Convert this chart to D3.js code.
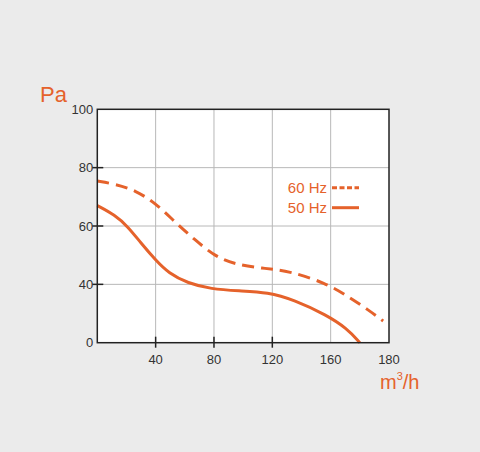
<!DOCTYPE html>
<html>
<head>
<meta charset="utf-8">
<script src="https://cdn.jsdelivr.net/npm/d3@7"></script>
<style>
  body { margin: 0; background: #ebebeb; }
  svg { display: block; font-family: "Liberation Sans", Arial, sans-serif; }
</style>
</head>
<body>
<svg id="chart" width="480" height="452"></svg>
<script>
// axis labels sit at evenly spaced positions (as on the original sheet)
const xTicks = [0, 40, 80, 120, 160, 180];
const yTicks = [0, 40, 60, 80, 100];

// 50 Hz curve (solid)
const flow50 = [0, 12, 21, 30, 40, 49, 62, 78, 97, 117, 135, 157, 165.5, 170];
const pa50 = [67, 63.8, 59.8, 54.1, 48.3, 43.8, 40.4, 36.8, 35.5, 34.6, 29.3, 19, 9.9, 0];

// 60 Hz curve (dashed)
const flow60 = [0, 12, 26, 40, 53, 67, 81, 94, 113, 131, 157, 166, 173, 178];
const pa60 = [75.4, 74.4, 72.3, 67.8, 61.5, 55.2, 49.5, 46.9, 45.5, 44.7, 40.4, 31.6, 22.4, 14.9];

const ORANGE = "#e5622b";
const margin = {top: 109.3, left: 97.3};
const width = 291.7, height = 233.4;

let svg = d3.select("#chart");
let g = svg.append("g").attr("transform", "translate(" + margin.left + "," + margin.top + ")");

let x = d3.scaleLinear()
    .domain(xTicks)
    .range(xTicks.map((d, i) => i * width / (xTicks.length - 1)));
let y = d3.scaleLinear()
    .domain(yTicks)
    .range(yTicks.map((d, i) => height - i * height / (yTicks.length - 1)));

// plot background
g.append("rect").attr("width", width).attr("height", height).attr("fill", "#fff");

// grid
g.selectAll(".vgrid").data([40, 80, 120, 160]).enter().append("line")
    .attr("x1", d => x(d)).attr("x2", d => x(d))
    .attr("y1", 0).attr("y2", height)
    .attr("stroke", "#b8b8b8").attr("stroke-width", 1);
g.selectAll(".hgrid").data([40, 60, 80]).enter().append("line")
    .attr("y1", d => y(d)).attr("y2", d => y(d))
    .attr("x1", 0).attr("x2", width)
    .attr("stroke", "#b8b8b8").attr("stroke-width", 1);

// tick marks crossing the frame
g.selectAll(".ytick").data([40, 60, 80]).enter().append("line")
    .attr("x1", -5).attr("x2", 6)
    .attr("y1", d => y(d)).attr("y2", d => y(d))
    .attr("stroke", "#222").attr("stroke-width", 1.5);
g.selectAll(".xtick").data([40, 80, 120]).enter().append("line")
    .attr("x1", d => x(d)).attr("x2", d => x(d))
    .attr("y1", height - 6).attr("y2", height + 5)
    .attr("stroke", "#222").attr("stroke-width", 1.5);

// tick labels
g.selectAll(".ylab").data(yTicks).enter().append("text")
    .attr("x", -4).attr("y", d => y(d)).attr("dy", "0.36em")
    .attr("text-anchor", "end").attr("font-size", 13).attr("fill", "#333")
    .text(d => d);
g.selectAll(".xlab").data(xTicks.slice(1)).enter().append("text")
    .attr("x", d => x(d)).attr("y", height + 21)
    .attr("text-anchor", "middle").attr("font-size", 13).attr("fill", "#333")
    .text(d => d);

// curves - smoothed through the read-off points
let line = d3.line()
    .x(d => x(d[0]))
    .y(d => y(d[1]))
    .curve(d3.curveBasis);

g.append("path")
    .datum(d3.zip(flow60, pa60))
    .attr("fill", "none").attr("stroke", ORANGE).attr("stroke-width", 3)
    .attr("stroke-dasharray", "12,7")
    .attr("d", line);
g.append("path")
    .datum(d3.zip(flow50, pa50))
    .attr("fill", "none").attr("stroke", ORANGE).attr("stroke-width", 3)
    .attr("d", line);

// frame
g.append("rect").attr("width", width).attr("height", height)
    .attr("fill", "none").attr("stroke", "#222").attr("stroke-width", 1.5);

// legend
let legend = [
    {label: "60 Hz", dash: "5,2.5", y: 187.7},
    {label: "50 Hz", dash: null, y: 207.7}
];
legend.forEach(l => {
    svg.append("text")
        .attr("x", 327).attr("y", l.y).attr("dy", "0.36em")
        .attr("text-anchor", "end").attr("font-size", 15).attr("fill", ORANGE)
        .text(l.label);
    svg.append("line")
        .attr("x1", 332).attr("x2", 359).attr("y1", l.y).attr("y2", l.y)
        .attr("stroke", ORANGE).attr("stroke-width", 3)
        .attr("stroke-dasharray", l.dash);
});

// axis titles
svg.append("text")
    .attr("x", 40).attr("y", 102)
    .attr("font-size", 22).attr("fill", ORANGE)
    .text("Pa");
let unit = svg.append("text")
    .attr("x", 380).attr("y", 389)
    .attr("font-size", 20).attr("fill", ORANGE);
unit.append("tspan").text("m");
unit.append("tspan").attr("font-size", 11).attr("dy", -9).text("3");
unit.append("tspan").attr("dy", 9).text("/h");
</script>
</body>
</html>
